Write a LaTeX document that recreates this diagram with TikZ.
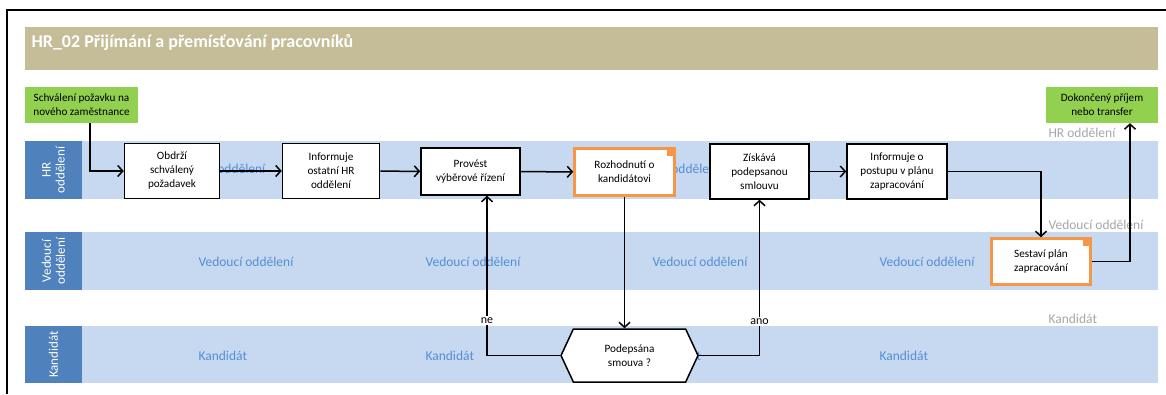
\documentclass[tikz,border=0pt]{standalone}
\usepackage{fontspec}
\setmainfont{Carlito}
\usetikzlibrary{arrows.meta,shapes.symbols}
\definecolor{titletan}{HTML}{C4BD97}
\definecolor{startgreen}{HTML}{92D050}
\definecolor{lanehead}{HTML}{4F81BD}
\definecolor{lanefill}{HTML}{C6D9F1}
\definecolor{lanetextblue}{HTML}{558ED5}
\definecolor{taskorange}{HTML}{F79646}
\definecolor{lanegray}{HTML}{A6A6A6}
\begin{document}
\begin{tikzpicture}[x=1pt, y=-1pt,
    task/.style = {draw, line width=1.5pt, fill=white, align=center,
                   font=\fontsize{11.2}{14}\selectfont, inner sep=1pt},
    decide/.style = {task, draw=taskorange, line width=2.5pt},
    event/.style = {fill=startgreen, align=center,
                    font=\fontsize{11.2}{14}\selectfont, inner sep=1pt},
    lanetext/.style = {text=lanetextblue, font=\fontsize{13.5}{15}\selectfont, anchor=west},
    lanename/.style = {text=lanegray, font=\fontsize{13.5}{15}\selectfont, anchor=west},
    lanehd/.style = {text=white, rotate=90, align=center,
                     font=\fontsize{13}{14}\selectfont},
    flow/.style = {line width=1.5pt, -{Straight Barb[length=5pt,width=11pt]}},
    answer/.style = {fill=white, inner sep=1.5pt, font=\fontsize{12}{14}\selectfont}]
  \useasboundingbox (0,0) rectangle (1166,394);
  % frame and title
  \draw [line width=2.5pt] (7,394) -- (7,10) -- (1166,10);
  \fill [titletan] (25,27) rectangle (1158,70);
  \node [anchor=base west, text=white, font=\fontsize{18}{21}\selectfont\bfseries]
    (title) at (28,47) {HR\_02 Přijímání a přemísťování pracovníků};

  % lanes
  \fill [lanehead] (25,141) rectangle (82,199);
  \fill [lanefill] (82,141) rectangle (1158,199);
  \fill [lanehead] (25,232) rectangle (82,290);
  \fill [lanefill] (82,232) rectangle (1158,290);
  \fill [lanehead] (25,326) rectangle (82,383);
  \fill [lanefill] (82,326) rectangle (1158,383);
  \node [lanehd] (hrhd) at (53.5,170) {HR\\oddělení};
  \node [lanehd] (vedhd) at (53.5,261) {Vedoucí\\oddělení};
  \node [lanehd] (kandhd) at (53.5,354.5) {Kandidát};
  \foreach \x in {195,422,649,876} {
    \node [lanetext] at (\x,169) {HR oddělení};
    \node [lanetext] at (\x,262) {Vedoucí oddělení};
    \node [lanetext] at (\x,356) {Kandidát};
  }
  \node [lanename] (hrname) at (1045,133) {HR oddělení};
  \node [lanename] (vedname) at (1045,225) {Vedoucí oddělení};
  \node [lanename] (kandname) at (1045,319) {Kandidát};

  % events
  \node [event, minimum width=113pt, minimum height=36pt] (start) at (81.5,105)
    {Schválení požavku na\\nového zaměstnance};
  \node [event, minimum width=112pt, minimum height=36pt] (end) at (1102,105)
    {Dokončený příjem\\nebo transfer};

  % tasks
  \node [task, minimum width=95pt, minimum height=55pt] (obdrzi) at (172,171)
    {Obdrží\\schválený\\požadavek};
  \node [task, minimum width=97pt, minimum height=55pt] (infhr) at (331,171)
    {Informuje\\ostatní HR\\oddělení};
  \node [task, minimum width=99pt, minimum height=47pt] (provest) at (470.5,171.5)
    {Provést\\výběrové řízení};
  \node [decide, minimum width=100pt, minimum height=47pt] (rozhod) at (624.5,172)
    {Rozhodnutí o\\kandidátovi};
  \fill [taskorange] ([xshift=-9pt,yshift=-9pt]rozhod.north east) rectangle (rozhod.north east);
  \node [task, minimum width=99pt, minimum height=55pt] (ziska) at (759.5,171.5)
    {Získává\\podepsanou\\smlouvu};
  \node [task, minimum width=100pt, minimum height=55pt] (infpost) at (897,171.5)
    {Informuje o\\postupu v plánu\\zapracování};
  \node [decide, minimum width=99pt, minimum height=46pt] (plan) at (1041,261.5)
    {Sestaví plán\\zapracování};
  \fill [taskorange] ([xshift=-9pt,yshift=-9pt]plan.north east) rectangle (plan.north east);
  \node [task, shape=signal, signal to=west and east, signal pointer angle=130,
         minimum width=137pt, minimum height=53pt] (podpis) at (629.5,355.5)
    {Podepsána\\smouva ?};

  % connectors
  \draw [flow] ([xshift=8.5pt]start.south) |- (obdrzi.west);
  \draw [flow] (obdrzi) -- (infhr);
  \draw [flow] (infhr) -- (provest);
  \draw [flow] (provest) -- (rozhod);
  \draw [flow] (rozhod.south) -- (rozhod.south |- podpis.north);
  \draw [flow] (podpis.west) -| node [answer, pos=0.61] {ne} ([xshift=16.5pt]provest.south);
  \draw [flow] (podpis.east) -| node [answer, pos=0.61] {ano} (ziska.south);
  \draw [flow] (ziska) -- (infpost);
  \draw [flow] (infpost.east) -| (plan.north);
  \draw [flow] (plan.east) -| ([xshift=28pt]end.south);
\end{tikzpicture}
\end{document}
